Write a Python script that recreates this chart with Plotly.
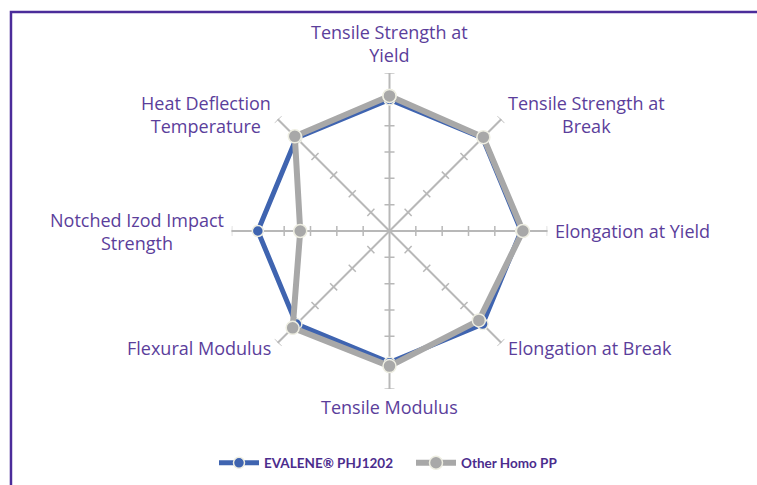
import math
import plotly.graph_objects as go

# ---- data ----
categories = [
    "Tensile Strength at<br>Yield",
    "Tensile Strength at<br>Break",
    "Elongation at Yield",
    "Elongation at Break",
    "Tensile Modulus",
    "Flexural Modulus",
    "Notched Izod Impact<br>Strength",
    "Heat Deflection<br>Temperature",
]
evalene = [100, 100, 100, 100, 100, 100, 100, 100]
other_pp = [102.6, 100.8, 101.3, 96, 102.6, 104, 67.8, 101.7]
series_names = ["EVALENE® PHJ1202", "Other Homo PP"]
radial_ticks = [20, 40, 60, 80, 100, 120]

# ---- styling ----
PURPLE = "#5B3E9B"
LEG_PURPLE = "#4B2C8D"
BLUE = "#3F64B0"
GRAY = "#A8A8A8"
SPOKE = "#B8B8B8"
LABEL_FONT = "Open Sans"
R_MAX = radial_ticks[-1]

n = len(categories)
angles = [i * 360.0 / n for i in range(n)]

fig = go.Figure()

# tick marks crossing every spoke (Excel radar style)
h = 3.8  # half length of tick in radial units
tr, tt = [], []
for a in angles:
    for r in radial_ticks:
        rr = math.sqrt(r * r + h * h)
        d = math.degrees(math.atan(h / r))
        tr += [rr, rr, None]
        tt += [a - d, a + d, None]
fig.add_trace(go.Scatterpolar(
    r=tr, theta=tt, mode="lines", line=dict(color=SPOKE, width=1.5),
    showlegend=False, hoverinfo="skip", connectgaps=False))

def closed(v):
    return list(v) + [v[0]]

fig.add_trace(go.Scatterpolar(
    r=closed(evalene), theta=closed(angles), mode="lines+markers",
    name="<b>" + series_names[0] + "</b>",
    line=dict(color=BLUE, width=5),
    marker=dict(size=11, color=BLUE, line=dict(color="#EEEEE2", width=1.5)),
))
fig.add_trace(go.Scatterpolar(
    r=closed(other_pp), theta=closed(angles), mode="lines+markers",
    name="<b>" + series_names[1] + "</b>",
    line=dict(color=GRAY, width=6),
    marker=dict(size=13, color=GRAY, line=dict(color="#EEEEE2", width=1.5)),
))

W, H = 757, 485
cx, cy, rad = 389.5, 231, 158   # polar centre / radius in page pixels

# category labels as centred annotations just outside each spoke end
annotations = []
for a, lab in zip(angles, categories):
    s, c = math.sin(math.radians(a)), math.cos(math.radians(a))
    if abs(s) < 0.1:
        pad = 4
    elif abs(c) < 0.1:
        pad = 5
    else:
        pad = 7
    px = cx + (rad + pad) * s
    py = cy - (rad + pad) * c
    xa = "left" if s > 0.1 else ("right" if s < -0.1 else "center")
    if abs(s) < 0.1:
        ya = "bottom" if c > 0 else "top"
    else:
        ya = "middle"
    annotations.append(dict(
        text=lab, x=px / W, y=1 - py / H, xref="paper", yref="paper",
        xanchor=xa, yanchor=ya, align="center", showarrow=False,
        font=dict(family=LABEL_FONT, size=18, color=PURPLE)))

fig.update_layout(
    width=W, height=H,
    margin=dict(l=0, r=0, t=0, b=0),
    paper_bgcolor="white",
    font=dict(family=LABEL_FONT, color=PURPLE),
    polar=dict(
        domain=dict(x=[(cx - rad) / W, (cx + rad) / W],
                    y=[1 - (cy + rad) / H, 1 - (cy - rad) / H]),
        bgcolor="white",
        radialaxis=dict(range=[0, R_MAX], showgrid=False, showline=False,
                        showticklabels=False, ticks=""),
        angularaxis=dict(
            thetaunit="degrees", rotation=90, direction="clockwise",
            tickmode="array", tickvals=angles, ticktext=categories,
            showticklabels=False,
            showgrid=True, gridcolor=SPOKE, gridwidth=1.5,
            showline=False, ticks="",
        ),
    ),
    legend=dict(
        orientation="h", x=214 / W, xanchor="left", y=1 - 463 / H, yanchor="middle",
        font=dict(family="Lato", size=13.5, color=LEG_PURPLE),
        itemwidth=40, bgcolor="rgba(0,0,0,0)",
        entrywidth=142, entrywidthmode="pixels",
    ),
    annotations=annotations,
    shapes=[dict(type="path", xref="paper", yref="paper",
                 path="M {:.4f},-0.2 L {:.4f},{:.4f} L 1.3,{:.4f}".format(
                     11 / W, 11 / W, 1 - 12 / H, 1 - 12 / H),
                 line=dict(color="#4B2C9A", width=2.5), layer="above")],
)

fig.write_html(
    "out.html",
    config={"displayModeBar": False},
    post_script="document.body.style.margin='0';"
                "document.body.style.overflow='hidden';",
)
